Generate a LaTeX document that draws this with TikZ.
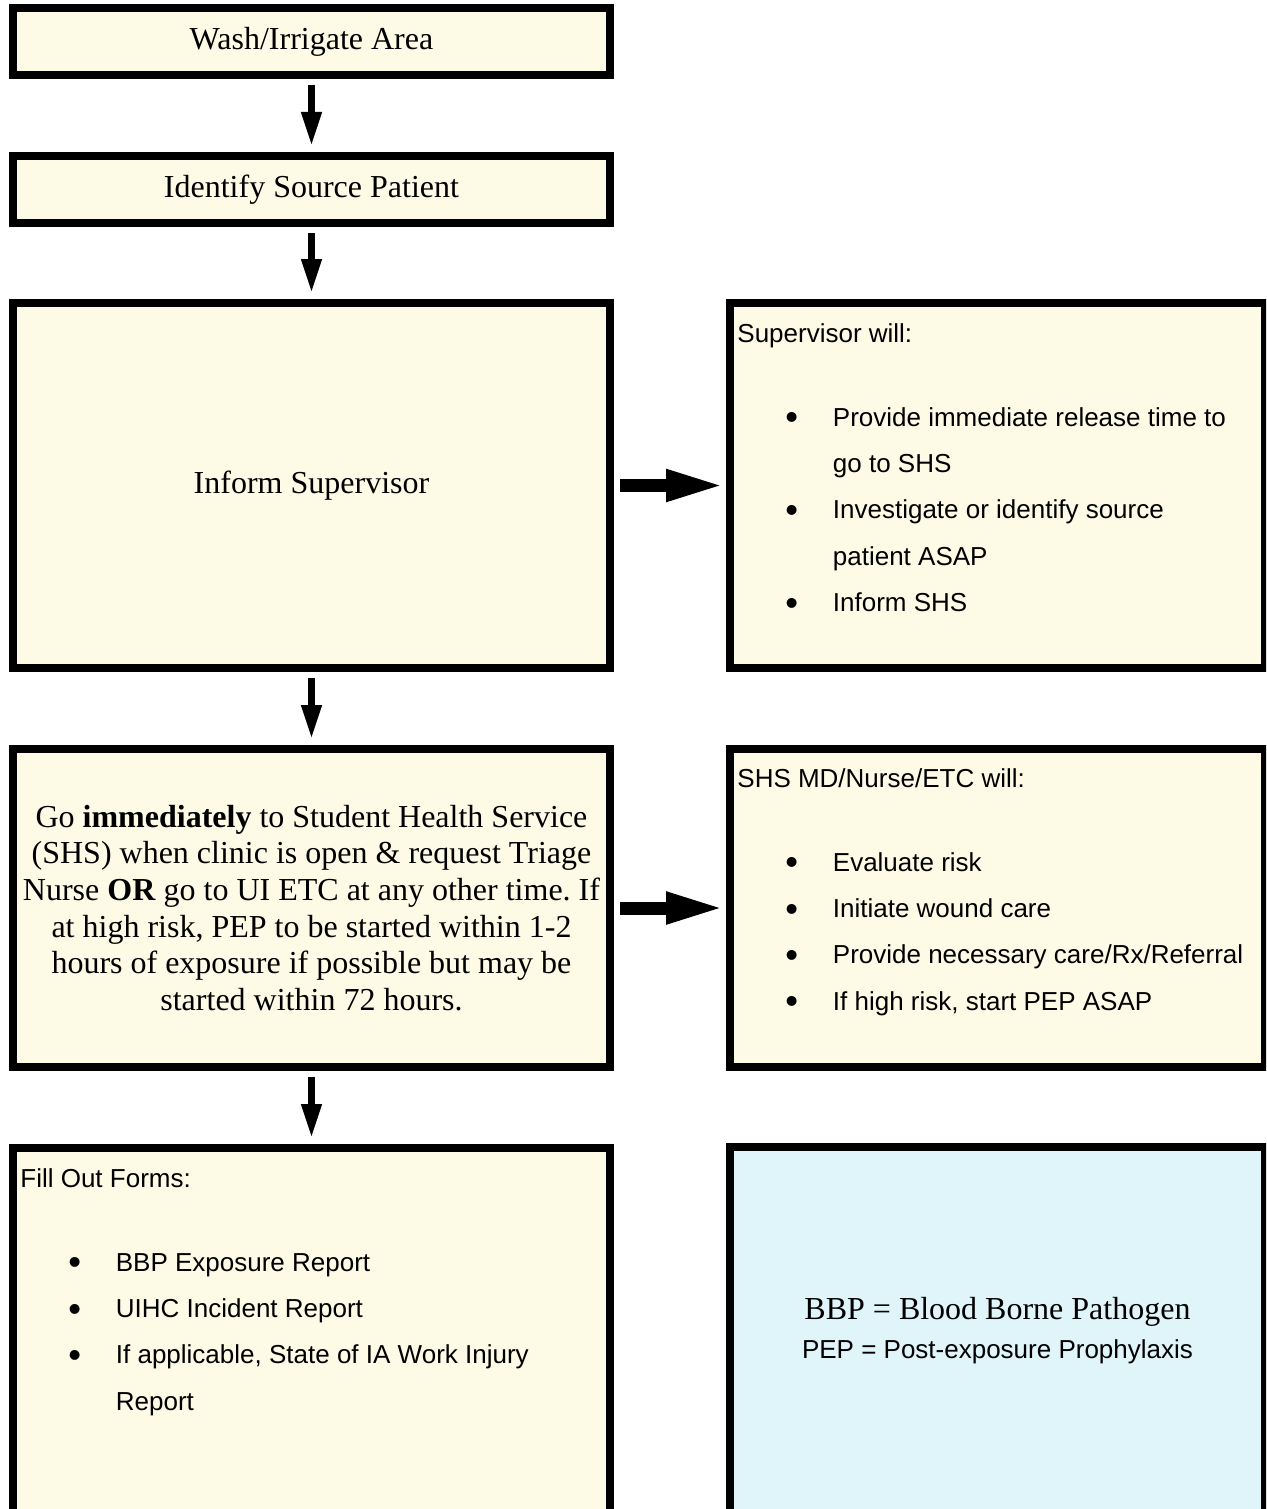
\documentclass[tikz,border=0pt]{standalone}
\usepackage{fontspec}
\setmainfont{Liberation Serif}
\setsansfont{Liberation Sans}
\usetikzlibrary{arrows.meta}
\definecolor{boxyellow}{RGB}{253,251,230}
\definecolor{boxblue}{RGB}{224,245,249}
\frenchspacing
\def\bulletline{\hspace*{24pt}\makebox[23.75pt][l]{\raisebox{-1.8pt}{\scalebox{1.4}{\textbullet}}}}
\def\bulletcont{\hspace*{47.75pt}}
\tikzset{
	flowbox/.style={draw=black, line width=4pt, fill=boxyellow, inner sep=0pt, align=center, font=\fontsize{16}{18.3}\selectfont},
	leftbox/.style={flowbox, minimum width=298.5pt},
	rightbox/.style={flowbox, minimum width=267.5pt},
	listtext/.style={anchor=north west, inner sep=0pt, align=left, font=\sffamily\fontsize{13}{23.2}\selectfont},
	downarrow/.style={line width=3.5pt, -{Triangle[length=17pt,width=9.5pt]}, shorten <=3pt, shorten >=3pt},
	sidearrow/.style={line width=6.5pt, -{Triangle[length=29.5pt,width=14.5pt]}, shorten <=3pt, shorten >=0.5pt}
}

\begin{document}
\begin{tikzpicture}[x=0.5pt,y=-0.5pt]
			%%%%% START %%%%%
			
			\clip (0,0) rectangle (1266,1509);
			
			\node[leftbox, minimum height=33.5pt] (wash) at (311.5,41.5) {Wash/Irrigate Area};
			\node[leftbox, minimum height=33.5pt] (identify) at (311.5,189.5) {Identify Source Patient};
			\node[leftbox, minimum height=182.5pt] (inform) at (311.5,485.5) {Inform Supervisor};
			\node[leftbox, minimum height=159pt] (gotoshs) at (311.5,908) {Go \textbf{immediately} to Student Health Service\\(SHS) when clinic is open \& request Triage\\Nurse \textbf{OR} go to UI ETC at any other time. If\\at high risk, PEP to be started within 1-2\\hours of exposure if possible but may be\\started within 72 hours.};
			\node[leftbox, minimum height=184pt] (forms) at (311.5,1332) {};
			
			\node[rightbox, minimum height=182.5pt] (supervisor) at (997.5,485.5) {};
			\node[rightbox, minimum height=159pt] (shsstaff) at (997.5,908) {};
			\node[rightbox, minimum height=184pt, fill=boxblue] (legend) at (997.5,1331) {BBP = Blood Borne Pathogen\\[1.2pt]{\sffamily\fontsize{13}{15}\selectfont PEP = Post-exposure Prophylaxis}};
			
			\node[listtext] (supervisortext) at (737,323) {Supervisor will:\\[18.75pt]
				\bulletline Provide immediate release time to\\
				\bulletcont go to SHS\\
				\bulletline Investigate or identify source\\
				\bulletcont patient ASAP\\
				\bulletline Inform SHS};
			
			\node[listtext] (shsstafftext) at (737,768) {SHS MD/Nurse/ETC will:\\[18.75pt]
				\bulletline Evaluate risk\\
				\bulletline Initiate wound care\\
				\bulletline Provide necessary care/Rx/Referral\\
				\bulletline If high risk, start PEP ASAP};
			
			\node[listtext] (formstext) at (20,1168) {Fill Out Forms:\\[18.75pt]
				\bulletline BBP Exposure Report\\
				\bulletline UIHC Incident Report\\
				\bulletline If applicable, State of IA Work Injury\\
				\bulletcont Report};
			
			\draw[downarrow] (wash) -- (identify);
			\draw[downarrow] (identify) -- (inform);
			\draw[downarrow] (inform) -- (gotoshs);
			\draw[downarrow] (gotoshs) -- (forms);
			
			\draw[sidearrow] (inform) -- (supervisor);
			\draw[sidearrow] (gotoshs) -- (shsstaff);
			
			%%%%% END %%%%%
\end{tikzpicture}
\end{document}
